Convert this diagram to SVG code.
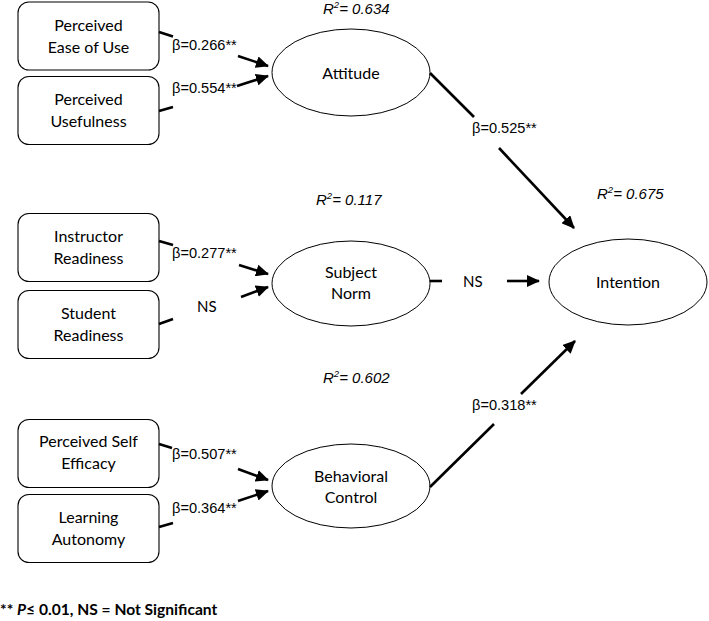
<svg xmlns="http://www.w3.org/2000/svg" width="709" height="621" viewBox="0 0 709 621">
<defs>
<marker id="ah" markerUnits="userSpaceOnUse" markerWidth="14" markerHeight="12" refX="12" refY="6" orient="auto">
<path d="M0,0 L13,6 L0,12 Z" fill="#000"/>
</marker>
<style>
.box{fill:#fff;stroke:#000;stroke-width:1.1}
.ell{fill:#fff;stroke:#000;stroke-width:1}
.t{font-family:Lato,"Open Sans","Liberation Sans",sans-serif;font-size:16px;fill:#000;text-anchor:middle}
.b{font-family:"Liberation Sans",Arial,sans-serif;font-size:14.6px;fill:#000}
.r{font-family:"Liberation Sans",Arial,sans-serif;font-size:15px;font-style:italic;fill:#000}
.c line{stroke:#000;stroke-width:2.6;fill:none}
.c line.a{marker-end:url(#ah)}
.ns{font-family:Lato,"Open Sans","Liberation Sans",sans-serif;font-size:15px;fill:#000}
.foot{font-family:Lato,"Open Sans","Liberation Sans",sans-serif;font-size:15.6px;font-weight:bold;fill:#000}
</style>
</defs>
<rect width="709" height="621" fill="#fff"/>

<g id="peou"><rect class="box" x="18" y="2" width="141" height="68" rx="11"/><text class="t" x="88.5" y="30.5">Perceived</text><text class="t" x="88.5" y="52.5">Ease of Use</text></g>
<g id="pu"><rect class="box" x="18" y="76.5" width="141" height="68" rx="11"/><text class="t" x="88.5" y="105">Perceived</text><text class="t" x="88.5" y="127">Usefulness</text></g>
<g id="ir"><rect class="box" x="18" y="213.5" width="141" height="68" rx="11"/><text class="t" x="88.5" y="242">Instructor</text><text class="t" x="88.5" y="264">Readiness</text></g>
<g id="sr"><rect class="box" x="18" y="290.5" width="141" height="68" rx="11"/><text class="t" x="88.5" y="319">Student</text><text class="t" x="88.5" y="341">Readiness</text></g>
<g id="pse"><rect class="box" x="18" y="419.5" width="141" height="68" rx="11"/><text class="t" x="88.5" y="447">Perceived Self</text><text class="t" x="88.5" y="469">Efficacy</text></g>
<g id="la"><rect class="box" x="18" y="494.5" width="141" height="68" rx="11"/><text class="t" x="88.5" y="523">Learning</text><text class="t" x="88.5" y="545">Autonomy</text></g>

<g id="attitude"><ellipse class="ell" cx="351" cy="72.5" rx="79" ry="43.5"/><text class="t" x="351" y="79">Attitude</text></g>
<g id="subjectnorm"><ellipse class="ell" cx="351" cy="283.5" rx="79" ry="42.5"/><text class="t" x="351" y="278">Subject</text><text class="t" x="351" y="299">Norm</text></g>
<g id="behavioral"><ellipse class="ell" cx="351" cy="486" rx="79" ry="42"/><text class="t" x="351" y="482">Behavioral</text><text class="t" x="351" y="503">Control</text></g>
<g id="intention"><ellipse class="ell" cx="628" cy="282" rx="79" ry="43"/><text class="t" x="628" y="288">Intention</text></g>

<g id="connectors" class="c">
<line x1="159" y1="32" x2="173" y2="36.5"/><line class="a" x1="238" y1="56" x2="268" y2="66"/>
<line x1="159" y1="111" x2="173" y2="107"/><line class="a" x1="237" y1="86" x2="268" y2="76"/>
<line x1="430" y1="73" x2="474" y2="117"/><line class="a" x1="499" y1="148" x2="574" y2="228"/>
<line x1="430" y1="281" x2="442" y2="281"/><line class="a" x1="507" y1="281" x2="539" y2="281"/>
<line x1="159" y1="241" x2="173" y2="245"/><line class="a" x1="239" y1="265" x2="268" y2="274"/>
<line x1="159" y1="324" x2="173" y2="319"/><line class="a" x1="241" y1="297" x2="268" y2="287"/>
<line x1="159" y1="444" x2="172" y2="448"/><line class="a" x1="238" y1="469" x2="268" y2="480"/>
<line x1="159" y1="527" x2="173" y2="523"/><line class="a" x1="238" y1="501" x2="268" y2="491"/>
<line x1="430" y1="487" x2="494" y2="424"/><line class="a" x1="521" y1="394" x2="575" y2="341"/>
</g>

<g id="labels">
<text class="b" x="172" y="50">β=0.266**</text>
<text class="b" x="172" y="93">β=0.554**</text>
<text class="b" x="472" y="133">β=0.525**</text>
<text class="ns" x="463" y="287">NS</text>
<text class="b" x="172" y="258">β=0.277**</text>
<text class="ns" x="197" y="312">NS</text>
<text class="b" x="172" y="459">β=0.507**</text>
<text class="b" x="172" y="513">β=0.364**</text>
<text class="b" x="472" y="410">β=0.318**</text>
<text class="r" x="323" y="14">R<tspan font-size="9.5" dy="-6">2</tspan><tspan dy="6">= 0.634</tspan></text>
<text class="r" x="316" y="205">R<tspan font-size="9.5" dy="-6">2</tspan><tspan dy="6">= 0.117</tspan></text>
<text class="r" x="597" y="199">R<tspan font-size="9.5" dy="-6">2</tspan><tspan dy="6">= 0.675</tspan></text>
<text class="r" x="323" y="383">R<tspan font-size="9.5" dy="-6">2</tspan><tspan dy="6">= 0.602</tspan></text>
<text class="foot" x="0" y="615">** <tspan font-style="italic">P</tspan>≤ 0.01, NS = Not Significant</text>
</g>
</svg>
